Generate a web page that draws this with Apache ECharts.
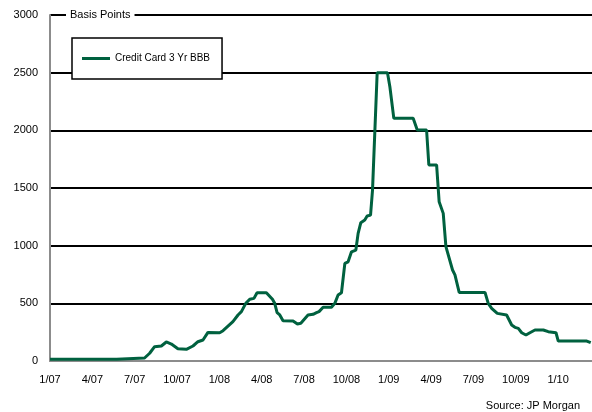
<!DOCTYPE html>
<html>
<head>
<meta charset="utf-8">
<script src="https://cdn.jsdelivr.net/npm/echarts@6/dist/echarts.min.js"></script>
<style>
  html, body { margin: 0; padding: 0; background: #fff; }
  #chart { width: 592px; height: 412px; }
</style>
</head>
<body>
<div id="chart"></div>
<script>
// months since 1/07 (fractional) and spread in basis points
const months = [0, 4.72, 4.75, 6.7, 7.06, 7.41, 7.89, 8.24, 8.6, 9.06, 9.66, 10.13, 10.48, 10.84,
  11.19, 12.02, 12.26, 12.96, 13.32, 13.56, 13.87, 14.15, 14.45, 14.67, 15.33, 15.76, 15.92,
  16.09, 16.28, 16.51, 17.22, 17.53, 17.77, 18.28, 18.64, 18.88, 19.06, 19.35, 19.94, 20.18,
  20.41, 20.65, 20.74, 20.89, 21.12, 21.36, 21.67, 21.83, 22.02, 22.3, 22.47, 22.71, 22.85,
  23.18, 23.91, 24.08, 24.36, 25.73, 26.02, 26.68, 26.84, 27.39, 27.57, 27.86, 28.05, 28.52,
  28.69, 28.99, 30.82, 31.05, 31.29, 31.69, 32.35, 32.71, 32.94, 33.18, 33.42, 33.72, 34.0,
  34.36, 34.95, 35.3, 35.85, 36.01, 38.03, 38.31];
const basisPoints = [15, 15, 20, 26, 67, 124, 130, 165, 147, 107, 101, 130, 167, 182,
  248, 245, 263, 341, 399, 428, 500, 535, 543, 592, 592, 535, 500,
  419, 399, 349, 347, 321, 327, 399, 405, 419, 428, 466, 466, 500,
  572, 592, 600, 847, 860, 947, 962, 1107, 1199, 1222, 1257, 1265, 1482,
  2500, 2500, 2378, 2104, 2104, 2003, 2003, 1700, 1700, 1381, 1280, 991, 789,
  746, 595, 595, 500, 457, 413, 399, 312, 292, 283, 245, 225, 245,
  269, 269, 254, 245, 173, 173, 159];
const yTicks = [0, 500, 1000, 1500, 2000, 2500, 3000];
const seriesName = "Credit Card 3 Yr BBB";

const font = "'Liberation Sans', Arial, sans-serif";
const chart = echarts.init(document.getElementById("chart"));

chart.setOption({
  backgroundColor: "#fff",
  animation: false,
  textStyle: { fontFamily: font },
  grid: { left: 50, right: 0, top: 15, bottom: 51 },
  xAxis: {
    type: "value",
    min: 0,
    max: 38.4,
    interval: 3,
    axisLine: { lineStyle: { color: "#8c8c8c", width: 2 } },
    axisTick: { show: false },
    splitLine: { show: false },
    axisLabel: {
      color: "#000",
      fontSize: 11,
      margin: 13,
      showMaxLabel: false,
      formatter: (m) => {
        const mon = (m % 12) + 1;
        const yr = 7 + Math.floor(m / 12);
        return mon + "/" + String(yr).padStart(2, "0");
      },
    },
  },
  yAxis: {
    type: "value",
    min: yTicks[0],
    max: yTicks[yTicks.length - 1],
    interval: 500,
    axisLine: { show: true, lineStyle: { color: "#8c8c8c", width: 2 } },
    axisTick: { show: false },
    splitLine: { lineStyle: { color: "#000", width: 2 } },
    axisLabel: { color: "#000", fontSize: 11, margin: 12, formatter: (v) => String(v) },
  },
  legend: {
    left: 72,
    top: 38,
    orient: "horizontal",
    backgroundColor: "#fff",
    borderColor: "#000",
    borderWidth: 1.5,
    borderRadius: 0,
    padding: [14, 12, 14, 10],
    icon: "rect",
    itemWidth: 28,
    itemHeight: 3,
    textStyle: { color: "#000", fontSize: 10, fontFamily: font, lineHeight: 13 },
    data: [seriesName],
  },
  graphic: [
    {
      type: "text",
      left: 66,
      top: 9,
      z: 100,
      style: {
        text: "Basis Points",
        fill: "#000",
        font: "11px " + font,
        backgroundColor: "#fff",
        padding: [0, 4],
      },
    },
    {
      type: "text",
      right: 12,
      bottom: 1,
      style: {
        text: "Source: JP Morgan",
        fill: "#000",
        font: "11px " + font,
      },
    },
  ],
  series: [
    {
      name: seriesName,
      type: "line",
      symbol: "none",
      z: 5,
      lineStyle: { color: "#00613f", width: 3 },
      itemStyle: { color: "#00613f" },
      data: months.map((m, i) => [m, basisPoints[i]]),
    },
  ],
});
</script>
</body>
</html>
